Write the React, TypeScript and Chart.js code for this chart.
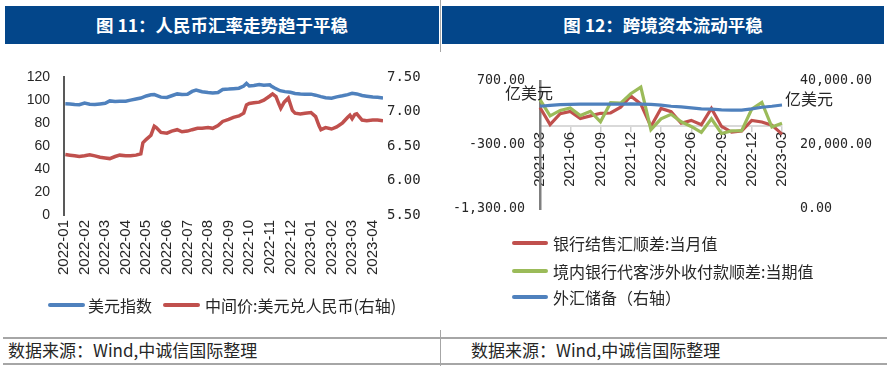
import React, { useEffect, useRef } from 'react';
import { Chart, registerables } from 'chart.js';

Chart.register(...registerables);

// ---------------- Figure 11 data ----------------
const fxMonthLabels = [
  '2022-01', '2022-02', '2022-03', '2022-04', '2022-05', '2022-06', '2022-07', '2022-08',
  '2022-09', '2022-10', '2022-11', '2022-12', '2023-01', '2023-02', '2023-03', '2023-04',
];
const fxSeriesNames = ['美元指数', '中间价:美元兑人民币(右轴)'];

const dxyDates = [
  '2022-01-03', '2022-01-10', '2022-01-17', '2022-01-24', '2022-02-01', '2022-02-08', '2022-02-15', '2022-02-22',
  '2022-03-01', '2022-03-08', '2022-03-16', '2022-03-23', '2022-04-01', '2022-04-08', '2022-04-16', '2022-04-23',
  '2022-05-01', '2022-05-08', '2022-05-13', '2022-05-23', '2022-06-01', '2022-06-08', '2022-06-16', '2022-06-23',
  '2022-07-01', '2022-07-08', '2022-07-14', '2022-07-23', '2022-08-01', '2022-08-08', '2022-08-16', '2022-08-23',
  '2022-09-01', '2022-09-08', '2022-09-16', '2022-09-23', '2022-09-27', '2022-10-01', '2022-10-08', '2022-10-16',
  '2022-10-23', '2022-11-01', '2022-11-03', '2022-11-08', '2022-11-16', '2022-11-23', '2022-12-01', '2022-12-08',
  '2022-12-16', '2022-12-23', '2023-01-01', '2023-01-08', '2023-01-16', '2023-01-23', '2023-02-01', '2023-02-08',
  '2023-02-16', '2023-02-23', '2023-03-01', '2023-03-08', '2023-03-16', '2023-03-23', '2023-04-01', '2023-04-08',
  '2023-04-16',
];
const dxyValues = [
  97.0, 96.8, 96.4, 96.2, 97.6, 96.6, 96.4, 96.9,
  97.5, 99.5, 99.0, 99.2, 99.3, 100.2, 101.2, 102.0,
  103.8, 104.8, 105.0, 102.8, 102.5, 104.0, 105.6, 105.0,
  105.3, 107.8, 109.0, 107.5, 106.8, 106.4, 106.8, 109.5,
  109.8, 110.2, 110.6, 112.5, 114.8, 112.5, 113.0, 113.8,
  113.2, 113.6, 112.5, 110.8, 108.4, 107.6, 107.0, 106.0,
  105.5, 105.3, 105.4, 104.5, 103.2, 102.2, 101.9, 103.0,
  104.0, 105.0, 106.2, 105.6, 104.2, 103.6, 102.9, 102.6,
  102.0,
];

const cnyDates = [
  '2022-01-03', '2022-01-10', '2022-01-17', '2022-01-24', '2022-02-01', '2022-02-08', '2022-02-15', '2022-02-22',
  '2022-03-01', '2022-03-08', '2022-03-16', '2022-03-23', '2022-04-01', '2022-04-08', '2022-04-16', '2022-04-23',
  '2022-04-26', '2022-05-01', '2022-05-08', '2022-05-13', '2022-05-16', '2022-05-23', '2022-06-01', '2022-06-08',
  '2022-06-16', '2022-06-23', '2022-07-01', '2022-07-08', '2022-07-16', '2022-07-23', '2022-08-01', '2022-08-08',
  '2022-08-16', '2022-08-23', '2022-09-01', '2022-09-08', '2022-09-16', '2022-09-23', '2022-09-27', '2022-10-01',
  '2022-10-08', '2022-10-16', '2022-10-23', '2022-11-01', '2022-11-05', '2022-11-10', '2022-11-14', '2022-11-17',
  '2022-11-22', '2022-11-28', '2022-12-04', '2022-12-08', '2022-12-16', '2022-12-23', '2023-01-01', '2023-01-08',
  '2023-01-13', '2023-01-16', '2023-01-23', '2023-02-01', '2023-02-08', '2023-02-16', '2023-02-23', '2023-02-26',
  '2023-03-01', '2023-03-05', '2023-03-08', '2023-03-16', '2023-03-23', '2023-04-01', '2023-04-08', '2023-04-16',
];
const cnyValues = [
  6.38, 6.37, 6.36, 6.35, 6.36, 6.375, 6.36, 6.34,
  6.33, 6.32, 6.35, 6.37, 6.36, 6.36, 6.37, 6.39,
  6.55, 6.60, 6.66, 6.79, 6.77, 6.70, 6.69, 6.72,
  6.74, 6.71, 6.72, 6.74, 6.76, 6.76, 6.77, 6.76,
  6.80, 6.86, 6.89, 6.92, 6.94, 6.98, 7.10, 7.12,
  7.13, 7.14, 7.17, 7.23, 7.26, 7.22, 7.12, 7.05,
  7.14, 7.20, 7.02, 6.98, 6.97, 6.98, 6.99, 6.93,
  6.80, 6.74, 6.77, 6.75, 6.78, 6.84, 6.92, 6.95,
  6.90, 6.96, 6.97, 6.88, 6.87, 6.88, 6.88, 6.87,
];

// ---------------- Figure 12 data ----------------
const flowMonths = [
  '2021-03', '2021-04', '2021-05', '2021-06', '2021-07', '2021-08', '2021-09', '2021-10', '2021-11',
  '2021-12', '2022-01', '2022-02', '2022-03', '2022-04', '2022-05', '2022-06', '2022-07', '2022-08',
  '2022-09', '2022-10', '2022-11', '2022-12', '2023-01', '2023-02', '2023-03',
];
const flowSeriesNames = ['银行结售汇顺差:当月值', '境内银行代客涉外收付款顺差:当期值', '外汇储备（右轴）'];
const settlementValues = [
  285, 20, 190, 225, 115, 155, 195, 200, 290,
  465, 340, -10, 270, 220, 40, 85, 15, 270,
  -10, -100, -80, 85, 60, 10, -130,
];
const crossBorderValues = [
  410, 155, 240, 280, 160, 225, 62, 360, 355,
  500, 605, -60, 108, 180, 62, -10, -103, 110,
  -120, -80, -78, 260, 366, -20, 38,
];
const reserveValues = [
  32100, 32350, 32600, 32700, 32800, 32800, 32750, 32800, 32800,
  32850, 32750, 32700, 32450, 32100, 31900, 31600, 31300, 31200,
  31000, 30900, 30900, 31300, 31800, 32100, 32500,
];

// ---------------- styles ----------------
const BLUE = '#4F81BD';
const RED = '#C0504D';
const GREEN = '#9BBB59';
const HEADER_BG = '#03468A';
const CJK = '"Noto Sans CJK SC", sans-serif';
const SANS = '"Liberation Sans", Arial, sans-serif';
const MONO = '"DejaVu Sans Mono", monospace';
const TEXT = '#262626';

function monthPos(date: string): number {
  const [y, m, d] = date.split('-').map(Number);
  const days = new Date(y, m, 0).getDate();
  return (y - 2022) * 12 + (m - 1) + (d - 1) / days;
}

const fmt2 = (v: number) =>
  Number(v).toLocaleString('en-US', { minimumFractionDigits: 2, maximumFractionDigits: 2 });

export default function App() {
  const leftRef = useRef<HTMLCanvasElement>(null);
  const rightRef = useRef<HTMLCanvasElement>(null);

  useEffect(() => {
    const left = new Chart(leftRef.current!, {
      type: 'line',
      data: {
        datasets: [
          {
            label: fxSeriesNames[0],
            data: dxyDates.map((d, i) => ({ x: monthPos(d), y: dxyValues[i] })),
            yAxisID: 'y',
            borderColor: BLUE,
            borderWidth: 3.5,
            pointRadius: 0,
            tension: 0,
          },
          {
            label: fxSeriesNames[1],
            data: cnyDates.map((d, i) => ({ x: monthPos(d), y: cnyValues[i] })),
            yAxisID: 'y1',
            borderColor: RED,
            borderWidth: 3.5,
            pointRadius: 0,
            tension: 0,
          },
        ],
      },
      options: {
        responsive: false,
        maintainAspectRatio: false,
        animation: false,
        layout: { padding: { top: 18, left: 0, right: 0, bottom: 0 } },
        plugins: { legend: { display: false }, tooltip: { enabled: false } },
        scales: {
          x: {
            type: 'linear',
            min: 0,
            max: 15.5,
            afterBuildTicks: (axis: any) => {
              axis.ticks = axis.ticks.filter((t: any) => Number.isInteger(t.value) && t.value < fxMonthLabels.length);
            },
            afterFit: (s: any) => { s.height = 80; },
            ticks: {
              stepSize: 1,
              includeBounds: false,
              autoSkip: false,
              minRotation: 90,
              maxRotation: 90,
              padding: 5,
              color: TEXT,
              font: { family: SANS, size: 15 },
              callback: (v: any) => fxMonthLabels[v] ?? '',
            },
            grid: { display: false, drawTicks: false },
            border: { display: false },
          },
          y: {
            position: 'left',
            min: 0,
            max: 120,
            afterFit: (s: any) => { s.width = 64; },
            ticks: { stepSize: 20, padding: 14, color: TEXT, font: { family: SANS, size: 14 } },
            grid: { display: false, drawTicks: false },
            border: { display: true, color: '#595959', width: 2 },
          },
          y1: {
            position: 'right',
            min: 5.5,
            max: 7.5,
            afterFit: (s: any) => { s.width = 57; },
            ticks: {
              stepSize: 0.5,
              padding: 4,
              color: TEXT,
              font: { family: MONO, size: 14 },
              callback: (v: any) => Number(v).toFixed(2),
            },
            grid: { display: false, drawTicks: false },
            border: { display: false },
          },
        },
      },
    } as any);

    const right = new Chart(rightRef.current!, {
      type: 'line',
      data: {
        labels: flowMonths,
        datasets: [
          {
            label: flowSeriesNames[0],
            data: settlementValues,
            yAxisID: 'y',
            borderColor: RED,
            borderWidth: 3.2,
            pointRadius: 0,
            tension: 0,
            order: 2,
          },
          {
            label: flowSeriesNames[1],
            data: crossBorderValues,
            yAxisID: 'y',
            borderColor: GREEN,
            borderWidth: 3.2,
            pointRadius: 0,
            tension: 0,
            order: 1,
          },
          {
            label: flowSeriesNames[2],
            data: reserveValues,
            yAxisID: 'y1',
            borderColor: BLUE,
            borderWidth: 3.2,
            pointRadius: 0,
            tension: 0,
            order: 0,
          },
        ],
      },
      options: {
        responsive: false,
        maintainAspectRatio: false,
        animation: false,
        layout: { padding: { top: 23, left: 0, right: 0, bottom: 15 } },
        plugins: { legend: { display: false }, tooltip: { enabled: false } },
        scales: {
          x: {
            type: 'category',
            position: { y: 0 },
            offset: false,
            afterBuildTicks: (axis: any) => {
              axis.ticks = axis.ticks.filter((t: any) => t.value % 3 === 0);
            },
            ticks: {
              autoSkip: false,
              minRotation: 90,
              maxRotation: 90,
              padding: 1,
              color: TEXT,
              font: { family: SANS, size: 15 },
            },
            grid: {
              display: true,
              drawOnChartArea: false,
              drawTicks: true,
              tickLength: 5,
              color: '#d0d0d0',
              lineWidth: 1.5,
            },
            border: { display: true, color: '#d9d9d9', width: 2 },
          },
          y: {
            position: 'left',
            min: -1300,
            max: 700,
            afterFit: (s: any) => { s.width = 99; },
            ticks: { stepSize: 1000, padding: 15, color: TEXT, font: { family: MONO, size: 13.3 }, callback: (v: any) => fmt2(v) },
            grid: { display: false, drawTicks: false },
            border: { display: true, color: '#7f7f7f', width: 2.5 },
          },
          y1: {
            position: 'right',
            min: 0,
            max: 40000,
            afterFit: (s: any) => { s.width = 102; },
            ticks: { stepSize: 20000, padding: 18, color: TEXT, font: { family: MONO, size: 13.3 }, callback: (v: any) => fmt2(v) },
            grid: { display: false, drawTicks: false },
            border: { display: false },
          },
        },
      },
    } as any);

    return () => {
      left.destroy();
      right.destroy();
    };
  }, []);

  const legendLine = (color: string, left: number, top: number, width: number) => (
    <div style={{ position: 'absolute', left, top: top - 2, width, height: 4, background: color, borderRadius: 2 }} />
  );
  const label = (text: string, left: number, top: number, size: number, extra: any = {}) => (
    <div
      style={{
        position: 'absolute',
        left,
        top: top - size * 0.7,
        height: size * 1.4,
        lineHeight: `${size * 1.4}px`,
        fontSize: size,
        fontFamily: CJK,
        color: TEXT,
        whiteSpace: 'nowrap',
        ...extra,
      }}
    >
      {text}
    </div>
  );

  return (
    <div
      style={{
        position: 'absolute',
        left: 0,
        top: 0,
        width: 891,
        height: 374,
        background: '#ffffff',
        overflow: 'hidden',
        fontFamily: CJK,
      }}
    >
      {/* headers */}
      <div
        style={{
          position: 'absolute', left: 5, top: 6, width: 434, height: 38, background: HEADER_BG,
          color: '#fff', fontWeight: 700, fontSize: 17.5, lineHeight: '38px', textAlign: 'center', fontFamily: CJK,
        }}
      >
        图 11：人民币汇率走势趋于平稳
      </div>
      <div
        style={{
          position: 'absolute', left: 442, top: 6, width: 442, height: 38, background: HEADER_BG,
          color: '#fff', fontWeight: 700, fontSize: 17.5, lineHeight: '38px', textAlign: 'center', fontFamily: CJK,
        }}
      >
        图 12：跨境资本流动平稳
      </div>
      <div style={{ position: 'absolute', left: 440, top: 0, width: 1, height: 52, background: '#a6a6a6' }} />

      {/* charts */}
      <canvas ref={leftRef} width={440} height={240} style={{ position: 'absolute', left: 0, top: 55, width: 440, height: 240 }} />
      <canvas ref={rightRef} width={443} height={180} style={{ position: 'absolute', left: 441, top: 55, width: 443, height: 180 }} />

      {/* unit labels */}
      {label('亿美元', 505, 92, 16)}
      {label('亿美元', 785, 98, 16)}

      {/* left legend */}
      {legendLine(BLUE, 48, 305, 37)}
      {label(fxSeriesNames[0], 88, 305, 16)}
      {legendLine(RED, 163, 305, 37)}
      {label(fxSeriesNames[1], 205, 305, 16)}

      {/* right legend */}
      {legendLine(RED, 512, 243, 36)}
      {label(flowSeriesNames[0], 553, 243, 16)}
      {legendLine(GREEN, 512, 271, 36)}
      {label(flowSeriesNames[1], 553, 271, 16)}
      {legendLine(BLUE, 512, 297, 36)}
      {label(flowSeriesNames[2], 553, 297, 16)}

      {/* footer */}
      <div style={{ position: 'absolute', left: 3, top: 337, width: 884, height: 1.5, background: '#a6a6a6' }} />
      <div style={{ position: 'absolute', left: 3, top: 363, width: 884, height: 1.5, background: '#a6a6a6' }} />
      <div style={{ position: 'absolute', left: 440, top: 330, width: 1, height: 36, background: '#a6a6a6' }} />
      {label('数据来源：Wind,中诚信国际整理', 8, 350, 17)}
      {label('数据来源：Wind,中诚信国际整理', 471, 350, 17)}
    </div>
  );
}
